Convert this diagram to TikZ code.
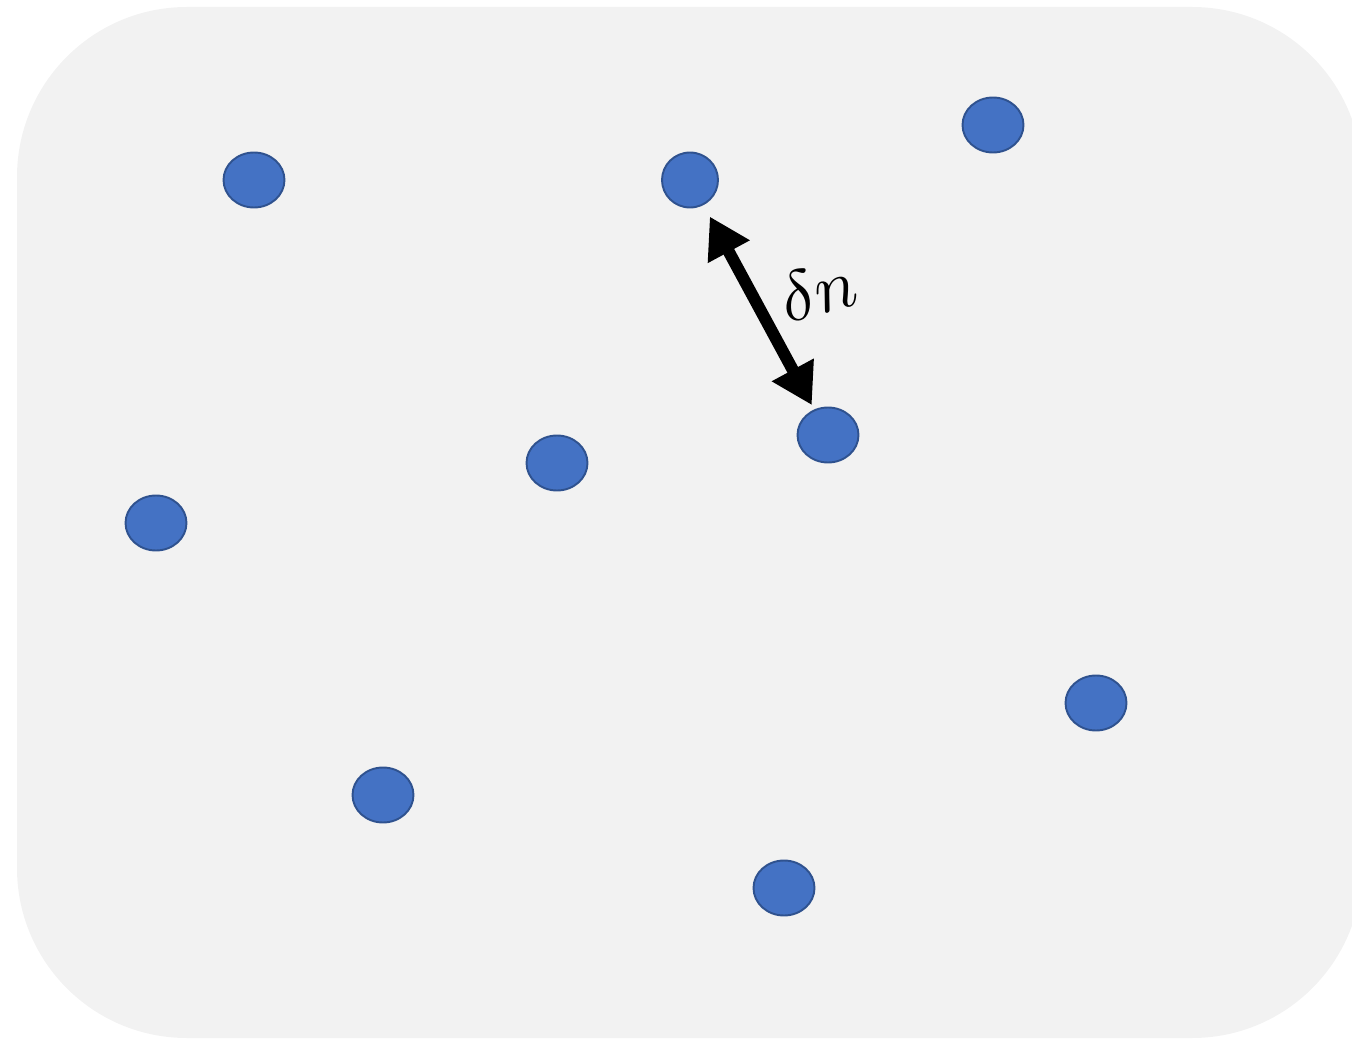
\documentclass[tikz,border=0pt]{standalone}
\usetikzlibrary{arrows.meta,shapes.geometric}
\definecolor{panel}{HTML}{F2F2F2}
\definecolor{beadfill}{HTML}{4472C4}
\definecolor{beadline}{HTML}{2F528F}
\begin{document}
\begin{tikzpicture}[x=.02cm,y=-.02cm,
 bead/.style={ellipse,fill=beadfill,draw=beadline,line width=1.1pt,inner sep=0pt,minimum width=1.22cm,minimum height=1.1cm}]
 \useasboundingbox (0,0) rectangle (1352,1040);
 \fill[panel,rounded corners=3.4cm] (17,7) rectangle (1362,1038);
 \node[bead] (a) at (254,180) {};
 \node[bead,minimum width=1.12cm] (b) at (690,180) {};
 \node[bead] (c) at (993,125) {};
 \node[bead] (d) at (828,435) {};
 \node[bead] (e) at (557,463) {};
 \node[bead] (f) at (156,523) {};
 \node[bead] (g) at (1096,703) {};
 \node[bead] (h) at (383,795) {};
 \node[bead] (i) at (784,888) {};
 \draw[{Triangle[length=.8cm,width=.9cm]}-{Triangle[length=.8cm,width=.9cm]},line width=.24cm,
  shorten <=.26cm,shorten >=.1cm] (b)--(d);
 \node[rotate=15,scale=4,inner sep=0pt] (lbl) at (818,290) {$\delta n$};
\end{tikzpicture}
\end{document}
